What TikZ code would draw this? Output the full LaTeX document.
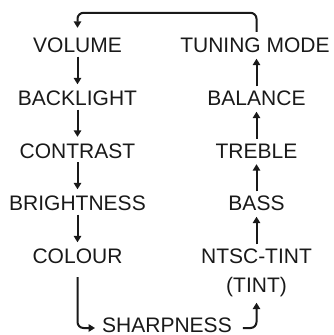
\documentclass[tikz,border=0pt]{standalone}
\usepackage{fontspec}
\setmainfont{Liberation Sans}
\usetikzlibrary{arrows.meta}
\begin{document}
\begin{tikzpicture}[x=1pt,y=-1pt,
  lbl/.style={font=\fontsize{21}{25}\selectfont, inner sep=0pt, text height=15pt, text depth=0pt, text=black!90},
  arr/.style={line width=2pt, draw=black!90, -{Triangle[length=6.5pt,width=7.5pt]}, shorten <=4pt, shorten >=6pt}]
\useasboundingbox (0,0) rectangle (333,335);
% left column
\node[lbl] (vol) at (77.5,45) {VOLUME};
\node[lbl] (back) at (77.5,98) {BACKLIGHT};
\node[lbl] (cont) at (77.5,150.5) {CONTRAST};
\node[lbl] (bri) at (77.5,203) {BRIGHTNESS};
\node[lbl] (col) at (77.5,256) {COLOUR};
% right column
\node[lbl] (tun) at (255,45) {TUNING MODE};
\node[lbl] (bal) at (256.5,98) {BALANCE};
\node[lbl] (tre) at (256.5,150.5) {TREBLE};
\node[lbl] (bass) at (256.5,203) {BASS};
\node[lbl] (ntsc) at (256.5,256) {NTSC-TINT};
\node[lbl] (tint) at (256.5,285) {(TINT)};
% bottom
\node[lbl] (sharp) at (167,325.3) {SHARPNESS};
% left arrows
\draw[arr] (vol) -- (back);
\draw[arr] (back) -- (cont);
\draw[arr] (cont) -- (bri);
\draw[arr] (bri) -- (col);
% right arrows
\draw[arr] (bal.north) -- (bal.north |- tun.south);
\draw[arr] (tre) -- (bal);
\draw[arr] (bass) -- (tre);
\draw[arr] (ntsc) -- (bass);
% loops
\draw[arr, rounded corners=6pt, shorten <=5.5pt, shorten >=9.5pt]
  (tun.north -| bal.north) -- ++(0,-24.5) -| (vol.north);
\draw[arr, rounded corners=6pt, shorten <=13.5pt, shorten >=7pt]
  (col.south) |- ([yshift=-2.7pt]sharp.west);
\draw[arr, rounded corners=6pt, shorten <=11pt, shorten >=10pt]
  ([yshift=-2.7pt]sharp.east) -| (tint.south);
\end{tikzpicture}
\end{document}
